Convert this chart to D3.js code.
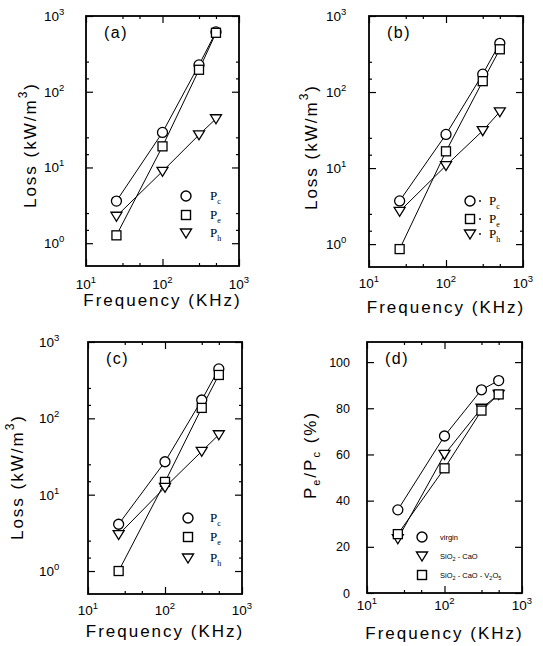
<!DOCTYPE html>
<html>
<head>
<meta charset="utf-8">
<script src="https://cdn.jsdelivr.net/npm/d3@7"></script>
<style>
  body { margin: 0; background: #fff; }
  svg { display: block; font-family: "Liberation Sans", Arial, sans-serif; }
  text { fill: #000; }
</style>
</head>
<body>
<svg id="chart" width="543" height="646"></svg>
<script>
// frequencies (kHz)
const freq = [25, 100, 300, 500];

// (a) losses, kW/m3
const aPc = [3.6, 29, 226, 616];
const aPe = [1.27, 19, 195, 600];
const aPh = [2.27, 8.9, 27, 44];

// (b)
const bPc = [3.7, 27.7, 172, 437];
const bPe = [0.86, 16.6, 139, 365];
const bPh = [2.7, 10.8, 31, 55];

// (c)
const cPc = [4.1, 27, 174, 444];
const cPe = [1.0, 14.7, 137, 370];
const cPh = [3.0, 12.5, 37, 61];

// (d) Pe/Pc (%)
const dVirgin = [36, 68, 88, 92];
const dSiCa = [23.5, 60, 80, 86];
const dSiCaV = [25.5, 54, 79, 86];

const xTicks = [10, 100, 1000];
const logYTicks = [1, 10, 100, 1000];
const linYTicks = [0, 20, 40, 60, 80, 100];
const lossLegend = ["c", "e", "h"];
const dLegend = ["virgin", "SiO|2| - CaO", "SiO|2| - CaO - V|2|O|5|"];

const svg = d3.select("#chart");

function minorLog(lo, hi) {
  const out = [];
  for (let d = lo; d < hi; d *= 10) [3, 5].forEach(m => { if (d * m > lo && d * m < hi) out.push(d * m); });
  return out;
}

function symbol(g, type, x, y) {
  if (type === "circle") {
    g.append("circle").attr("cx", x).attr("cy", y).attr("r", 5);
  } else if (type === "square") {
    g.append("rect").attr("x", x - 4.5).attr("y", y - 4.5).attr("width", 9).attr("height", 9);
  } else {
    g.append("path").attr("d", `M${x - 5.5},${y - 4}L${x + 5.5},${y - 4}L${x},${y + 5}Z`);
  }
}

// "10" with exponent
function powLabel(g, x, y, exp, anchor) {
  const t = g.append("text").attr("x", x).attr("y", y).attr("font-size", 13.5)
    .attr("text-anchor", anchor || "middle");
  t.append("tspan").text("10");
  t.append("tspan").attr("dy", -6).attr("font-size", 9.5).text(exp);
}

function drawPanel(p) {
  const g = svg.append("g");
  const x = d3.scaleLog().domain([10, 1000]).range([p.left, p.right]);
  const y = p.log
    ? d3.scaleLog().domain([0.5, 1000]).range([p.bottom, p.top])
    : d3.scaleLinear().domain([0, 108.7]).range([p.bottom, p.top]);

  const axisStyle = sel => {
    sel.select(".domain").remove();
    sel.selectAll("line").attr("stroke", "#000").attr("stroke-width", 1.2);
    sel.selectAll("text").remove();
  };

  // ticks, all pointing inward
  const xMinor = minorLog(10, 1000);
  [[d3.axisBottom, p.bottom], [d3.axisTop, p.top]].forEach(([ax, pos]) => {
    g.append("g").attr("transform", `translate(0,${pos})`)
      .call(ax(x).tickValues(xTicks).tickSizeInner(-7)).call(axisStyle);
    g.append("g").attr("transform", `translate(0,${pos})`)
      .call(ax(x).tickValues(xMinor).tickSizeInner(-3)).call(axisStyle);
  });
  const yMajor = p.log ? logYTicks : linYTicks;
  const yMinor = p.log ? minorLog(0.5, 1000) : [];
  [[d3.axisLeft, p.left], [d3.axisRight, p.right]].forEach(([ax, pos]) => {
    g.append("g").attr("transform", `translate(${pos},0)`)
      .call(ax(y).tickValues(yMajor).tickSizeInner(-7)).call(axisStyle);
    if (yMinor.length)
      g.append("g").attr("transform", `translate(${pos},0)`)
        .call(ax(y).tickValues(yMinor).tickSizeInner(-3)).call(axisStyle);
  });

  g.append("rect")
    .attr("x", p.left).attr("y", p.top)
    .attr("width", p.right - p.left).attr("height", p.bottom - p.top)
    .attr("fill", "none").attr("stroke", "#000").attr("stroke-width", 1.8);

  // tick labels
  xTicks.forEach(v => powLabel(g, x(v), p.bottom + p.xLabDy, Math.round(Math.log10(v))));
  if (p.log) {
    logYTicks.forEach(v => powLabel(g, p.yLabX, y(v) + 5, Math.round(Math.log10(v)), "start"));
  } else {
    linYTicks.forEach(v => g.append("text").attr("x", p.yLabX).attr("y", y(v) + 4.5)
      .attr("text-anchor", "end").attr("font-size", 12.5).text(v));
  }

  // axis titles
  g.append("text").attr("x", (p.left + p.right) / 2).attr("y", p.bottom + p.xTitleDy)
    .attr("text-anchor", "middle").attr("font-size", 17).attr("letter-spacing", 2)
    .text("Frequency (KHz)");

  const yt = g.append("text")
    .attr("transform", `translate(${p.yTitleX},${p.yTitleY}) rotate(-90)`)
    .attr("text-anchor", "middle").attr("font-size", 17).attr("letter-spacing", 2)
    .attr("dy", "0.35em");
  if (p.log) {
    yt.append("tspan").text("Loss (kW/m");
    yt.append("tspan").attr("dy", -9).attr("font-size", 12).text("3");
    yt.append("tspan").attr("dy", 9).text(")");
  } else {
    yt.append("tspan").text("P");
    yt.append("tspan").attr("dy", 4).attr("font-size", 11).text("e");
    yt.append("tspan").attr("dy", -4).text("/P");
    yt.append("tspan").attr("dy", 4).attr("font-size", 11).text("c");
    yt.append("tspan").attr("dy", -4).text(" (%)");
  }

  // panel letter
  g.append("text").attr("x", p.left + 18).attr("y", p.top + 22)
    .attr("font-size", 16).attr("letter-spacing", 1.5).text(p.name);

  // series
  const line = d3.line().x(d => x(d[0])).y(d => y(d[1]));
  p.series.forEach(s => {
    const pts = freq.map((f, i) => [f, s.values[i]]);
    g.append("path").datum(pts).attr("d", line)
      .attr("fill", "none").attr("stroke", "#000").attr("stroke-width", 1);
  });
  p.series.forEach(s => {
    const mg = g.append("g").attr("fill", "#fff").attr("stroke", "#000").attr("stroke-width", 1.3);
    freq.forEach((f, i) => symbol(mg, s.type, x(f), y(s.values[i])));
  });

  // legend
  p.series.forEach((s, i) => {
    const ly = p.bottom - p.legendDy[i];
    const lx = p.left + p.legendDx;
    const mg = g.append("g").attr("fill", "#fff").attr("stroke", "#000").attr("stroke-width", 1.4);
    symbol(mg, s.type, lx, ly);
    if (p.log) {
      if (p.dot) g.append("circle").attr("cx", lx + 10).attr("cy", ly).attr("r", 0.9).attr("fill", "#000");
      const t = g.append("text").attr("x", lx + p.textDx).attr("y", ly + 4)
        .attr("font-family", "Liberation Serif, serif").attr("font-size", 13);
      t.append("tspan").text("P");
      t.append("tspan").attr("dy", 4).attr("font-size", 8).text(lossLegend[i]);
    } else {
      const t = g.append("text").attr("x", lx + p.textDx).attr("y", ly + 3)
        .attr("font-size", 7.5);
      dLegend[i].split("|").forEach((part, k) => {
        if (!part) return;
        const sub = k % 2 === 1;
        t.append("tspan").attr("dy", sub ? 2 : (k > 0 ? -2 : 0))
          .attr("font-size", sub ? 5.5 : 7.5).text(part);
      });
    }
  });
}

drawPanel({
  name: "(a)", log: true, left: 86, right: 239, top: 16, bottom: 266,
  xLabDy: 23, xTitleDy: 40, yLabX: 44, yTitleX: 30, yTitleY: 145,
  legendDx: 100, legendDy: [70, 51, 33], textDx: 24,
  series: [{ type: "circle", values: aPc }, { type: "square", values: aPe }, { type: "tri", values: aPh }]
});
drawPanel({
  name: "(b)", log: true, left: 369, right: 523, top: 16, bottom: 267,
  xLabDy: 21, xTitleDy: 46, yLabX: 326, yTitleX: 311, yTitleY: 147,
  legendDx: 101, legendDy: [66, 48, 33], textDx: 19, dot: true,
  series: [{ type: "circle", values: bPc }, { type: "square", values: bPe }, { type: "tri", values: bPh }]
});
drawPanel({
  name: "(c)", log: true, left: 88, right: 242, top: 342, bottom: 594,
  xLabDy: 21, xTitleDy: 43, yLabX: 39, yTitleX: 17, yTitleY: 477,
  legendDx: 100, legendDy: [76, 57, 36], textDx: 22,
  series: [{ type: "circle", values: cPc }, { type: "square", values: cPe }, { type: "tri", values: cPh }]
});
drawPanel({
  name: "(d)", log: false, left: 367, right: 522, top: 342, bottom: 593,
  xLabDy: 17, xTitleDy: 46, yLabX: 350, yTitleX: 310, yTitleY: 455,
  legendDx: 55, legendDy: [56, 37, 18], textDx: 18,
  series: [{ type: "circle", values: dVirgin }, { type: "tri", values: dSiCa }, { type: "square", values: dSiCaV }]
});
</script>
</body>
</html>
